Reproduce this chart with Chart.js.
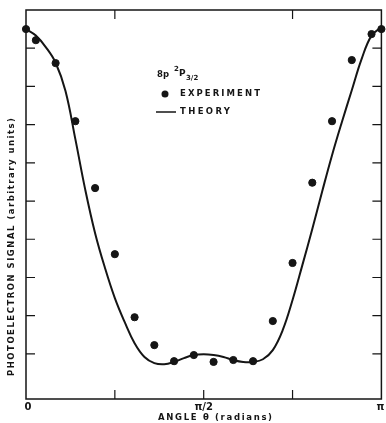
<!DOCTYPE html>
<html>
<head>
<meta charset="utf-8">
<script src="https://cdn.jsdelivr.net/npm/chart.js@4/dist/chart.umd.min.js"></script>
<style>
  html, body { margin: 0; padding: 0; background: #fff; }
  #wrap { width: 386px; height: 423px; }
</style>
</head>
<body>
<div id="wrap"><canvas id="chart" width="386" height="423"></canvas></div>
<script>
// experiment points (angle in degrees, signal in arbitrary units)
let expAngles = [0, 5, 15, 25, 35, 45, 55, 65, 75, 85, 95, 105, 115, 125, 135, 145, 155, 165, 175, 180];
let expSignal = [9.50, 9.21, 8.61, 7.09, 5.34, 3.61, 1.96, 1.23, 0.81, 0.97, 0.79, 0.84, 0.81, 1.86, 3.38, 5.48, 7.09, 8.69, 9.37, 9.50];

// theory curve
let theoryAngles = [0, 5, 10, 15, 20, 25, 30, 35, 40, 45, 50, 55, 60, 65, 70, 75, 80, 85, 90,
                    95, 100, 105, 110, 115, 120, 125, 130, 135, 140, 145, 150, 155, 160, 165, 170, 175, 180];
let theorySignal = [9.50, 9.33, 9.03, 8.62, 7.88, 6.62, 5.30, 4.16, 3.25, 2.46, 1.83, 1.28, 0.92, 0.76, 0.73, 0.79, 0.89, 0.97, 0.99,
                    0.97, 0.92, 0.84, 0.79, 0.79, 0.86, 1.10, 1.62, 2.41, 3.33, 4.27, 5.25, 6.20, 7.07, 7.90, 8.72, 9.33, 9.55];

// axis ticks
let xTickValues = [0, 45, 90, 135, 180];
let xTickLabels = ["0", "", "π/2", "", "π"];
let xTopTicks = [45, 135];
let yTickValues = [1, 2, 3, 4, 5, 6, 7, 8, 9];

const INK = "#151515";
const FONT = '"DejaVu Sans", sans-serif';

// draw text stretched to a given width by letter spacing
function spacedText(ctx, text, x, y, width) {
    ctx.letterSpacing = "0px";
    let w = ctx.measureText(text).width;
    let sp = Math.max(0, (width - w) / Math.max(1, text.length - 1));
    ctx.letterSpacing = sp + "px";
    ctx.fillText(text, x, y);
    ctx.letterSpacing = "0px";
}

const frame = {
    id: "frame",
    afterDraw(chart) {
        let ctx = chart.ctx;
        let a = chart.chartArea;
        let xs = chart.scales.x, ys = chart.scales.y;
        ctx.save();
        ctx.strokeStyle = INK;
        ctx.fillStyle = INK;

        // box
        ctx.lineWidth = 1.5;
        ctx.strokeRect(a.left, a.top, a.right - a.left, a.bottom - a.top);

        // inward ticks
        ctx.lineWidth = 1.2;
        ctx.beginPath();
        yTickValues.forEach(v => {
            let py = ys.getPixelForValue(v);
            ctx.moveTo(a.left, py); ctx.lineTo(a.left + 9, py);
            ctx.moveTo(a.right, py); ctx.lineTo(a.right - 9, py);
        });
        xTickValues.slice(1, -1).forEach(v => {
            let px = xs.getPixelForValue(v);
            ctx.moveTo(px, a.bottom); ctx.lineTo(px, a.bottom - 9);
        });
        xTopTicks.forEach(v => {
            let px = xs.getPixelForValue(v);
            ctx.moveTo(px, a.top); ctx.lineTo(px, a.top + 9);
        });
        ctx.stroke();

        // x tick labels
        ctx.font = "bold 10px " + FONT;
        ctx.textAlign = "center";
        ctx.textBaseline = "middle";
        xTickValues.forEach((v, i) => {
            if (!xTickLabels[i]) return;
            let px = xs.getPixelForValue(v);
            if (i === 0) px += 2;
            if (i === xTickValues.length - 1) px -= 1;
            ctx.fillText(xTickLabels[i], px, a.bottom + 8);
        });

        // axis titles
        ctx.font = "bold 8.5px " + FONT;
        ctx.textAlign = "left";
        spacedText(ctx, "ANGLE θ (radians)", 158, 418, 114);

        ctx.save();
        ctx.translate(12, 376);
        ctx.rotate(-Math.PI / 2);
        spacedText(ctx, "PHOTOELECTRON SIGNAL (arbitrary units)", 0, 0, 258);
        ctx.restore();

        // legend
        ctx.font = "bold 8.5px " + FONT;
        ctx.fillText("8p", 157, 75);
        ctx.font = "bold 7px " + FONT;
        ctx.fillText("2", 174, 69);
        ctx.font = "bold 9px " + FONT;
        ctx.fillText("P", 179, 74);
        ctx.font = "bold 7px " + FONT;
        ctx.fillText("3/2", 186, 78);

        ctx.beginPath();
        ctx.arc(165, 94, 3.5, 0, Math.PI * 2);
        ctx.fill();
        ctx.font = "bold 8.5px " + FONT;
        spacedText(ctx, "EXPERIMENT", 180, 94, 80);

        ctx.lineWidth = 1.5;
        ctx.beginPath();
        ctx.moveTo(156, 112); ctx.lineTo(176, 112);
        ctx.stroke();
        spacedText(ctx, "THEORY", 180, 112, 50);

        ctx.restore();
    }
};

new Chart(document.getElementById("chart"), {
    type: "scatter",
    data: {
        datasets: [
            {
                label: "THEORY",
                type: "line",
                data: theoryAngles.map((x, i) => ({ x: x, y: theorySignal[i] })),
                borderColor: INK,
                borderWidth: 2,
                pointRadius: 0,
                tension: 0.4,
                fill: false,
                clip: false
            },
            {
                label: "EXPERIMENT",
                data: expAngles.map((x, i) => ({ x: x, y: expSignal[i] })),
                backgroundColor: INK,
                borderColor: INK,
                pointRadius: 3.6,
                pointHoverRadius: 3.6,
                clip: false
            }
        ]
    },
    options: {
        responsive: false,
        animation: false,
        layout: { padding: { left: 26, right: 2, top: 10, bottom: 24 } },
        plugins: { legend: { display: false }, tooltip: { enabled: false } },
        scales: {
            x: { type: "linear", min: 0, max: 180, display: false },
            y: { type: "linear", min: -0.18, max: 10, display: false }
        }
    },
    plugins: [frame]
});
</script>
</body>
</html>
